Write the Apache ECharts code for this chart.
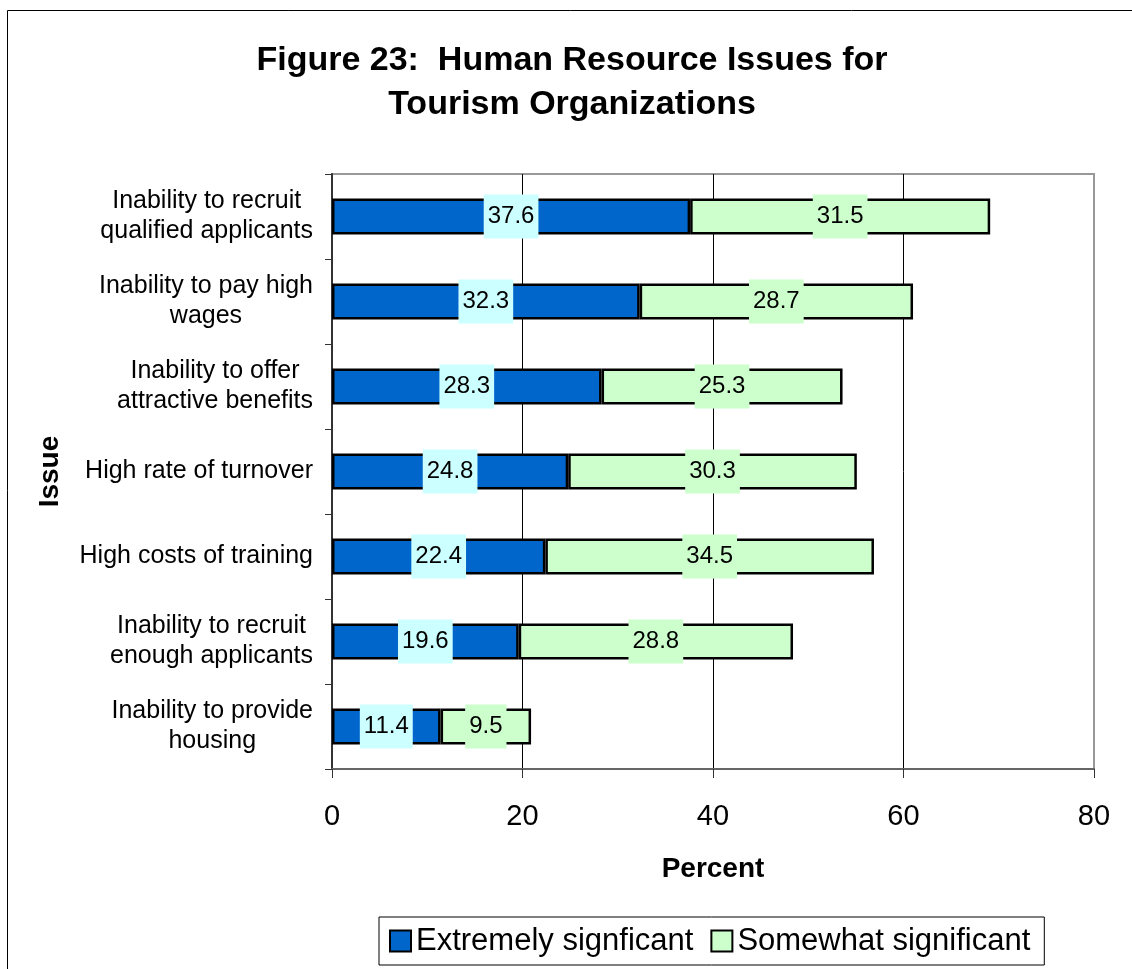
<!DOCTYPE html>
<html>
<head>
<meta charset="utf-8">
<title>Figure 23: Human Resource Issues for Tourism Organizations</title>
<script src="https://cdn.jsdelivr.net/npm/echarts@6/dist/echarts.min.js"></script>
<style>
  html, body { margin: 0; padding: 0; background: #fff; }
  #chart { width: 1132px; height: 969px; }
</style>
</head>
<body>
<div id="chart"></div>
<script>
// Issues, listed top to bottom
const issues = [
  'Inability to recruit\nqualified applicants',
  'Inability to pay high\nwages',
  'Inability to offer\nattractive benefits',
  'High rate of turnover',
  'High costs of training',
  'Inability to recruit\nenough applicants',
  'Inability to provide\nhousing'
];
// Percent of organizations rating each issue
const extremelySignificant = [37.6, 32.3, 28.3, 24.8, 22.4, 19.6, 11.4];
const somewhatSignificant = [31.5, 28.7, 25.3, 30.3, 34.5, 28.8, 9.5];
const percentTicks = { min: 0, max: 80, interval: 20 };

const FONT = '"Liberation Sans", Arial, sans-serif';

const chart = echarts.init(document.getElementById('chart'), null, { renderer: 'canvas' });

function segmentLabel(bg) {
  return {
    show: true,
    position: 'inside',
    fontFamily: FONT,
    fontSize: 24,
    color: '#000',
    backgroundColor: bg,
    padding: [10, 4],
    formatter: p => p.value.toFixed(1)
  };
}

chart.setOption({
  backgroundColor: '#fff',
  animation: false,
  graphic: [
    {
      type: 'rect',
      shape: { x: 7.5, y: 10.5, width: 1200, height: 1000 },
      style: { fill: 'none', stroke: '#000', lineWidth: 1 },
      silent: true
    },
    {
      type: 'text',
      x: 572,
      y: 39,
      style: {
        text: 'Figure 23:  Human Resource Issues for\nTourism Organizations',
        fontFamily: FONT,
        fontSize: 34,
        fontWeight: 'bold',
        lineHeight: 44,
        fill: '#000',
        textAlign: 'center',
        textVerticalAlign: 'top'
      }
    }
  ],
  grid: {
    left: 332,
    right: 38,
    top: 174,
    bottom: 200,
    show: true,
    borderColor: '#999',
    borderWidth: 2,
    backgroundColor: '#fff'
  },
  legend: {
    left: 379,
    top: 917,
    orient: 'horizontal',
    icon: 'rect',
    itemWidth: 21,
    itemHeight: 21,
    itemGap: 17,
    padding: [7, 14, 7, 10],
    borderColor: '#000',
    borderWidth: 1,
    textStyle: { fontFamily: FONT, fontSize: 31, color: '#000', lineHeight: 34 },
    data: ['Extremely signficant', 'Somewhat significant']
  },
  xAxis: {
    type: 'value',
    min: percentTicks.min,
    max: percentTicks.max,
    interval: percentTicks.interval,
    name: 'Percent',
    nameLocation: 'middle',
    nameGap: 86,
    nameTextStyle: { fontFamily: FONT, fontSize: 28, fontWeight: 'bold', color: '#000' },
    axisLine: { show: true, lineStyle: { color: '#666', width: 2 } },
    axisTick: { show: true, length: 9, lineStyle: { color: '#333', width: 1 } },
    axisLabel: { fontFamily: FONT, fontSize: 29, color: '#000', margin: 33 },
    splitLine: {
      show: true,
      showMinLine: false,
      showMaxLine: false,
      lineStyle: { color: '#000', width: 1 }
    }
  },
  yAxis: {
    type: 'category',
    inverse: true,
    data: issues,
    name: 'Issue',
    nameLocation: 'middle',
    nameGap: 268,
    nameRotate: 90,
    nameTextStyle: { fontFamily: FONT, fontSize: 28, fontWeight: 'bold', color: '#000' },
    axisLine: { show: true, lineStyle: { color: '#333', width: 2 } },
    axisTick: { show: true, length: 7, lineStyle: { color: '#333', width: 1 } },
    axisLabel: {
      margin: 19,
      fontFamily: FONT,
      fontSize: 25,
      color: '#000',
      lineHeight: 30,
      formatter: v => v.split('\n').map(s => '{c|' + s + '}').join('\n'),
      rich: {
        c: { align: 'center', fontFamily: FONT, fontSize: 25, lineHeight: 30, color: '#000' }
      }
    },
    splitLine: { show: false }
  },
  series: [
    {
      name: 'Extremely signficant',
      type: 'bar',
      stack: 'issue',
      barWidth: 36,
      data: extremelySignificant,
      itemStyle: { color: '#0066CC', borderColor: '#000', borderWidth: 2.5 },
      label: segmentLabel('#CCFFFF')
    },
    {
      name: 'Somewhat significant',
      type: 'bar',
      stack: 'issue',
      barWidth: 36,
      data: somewhatSignificant,
      itemStyle: { color: '#CCFFCC', borderColor: '#000', borderWidth: 2.5 },
      label: segmentLabel('#CCFFCC')
    }
  ]
});
</script>
</body>
</html>
